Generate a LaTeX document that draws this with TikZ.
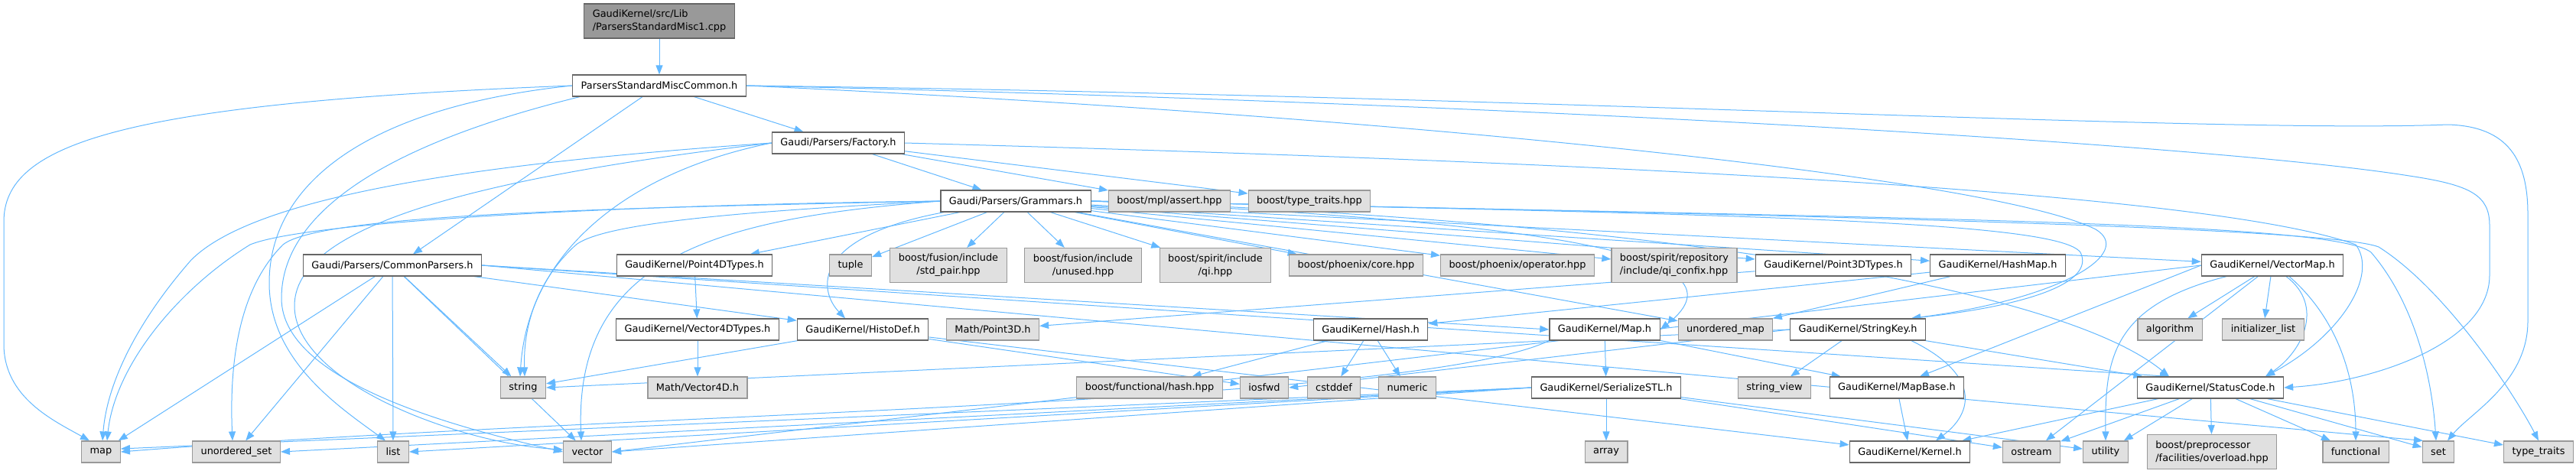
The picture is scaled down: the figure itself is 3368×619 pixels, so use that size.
\documentclass[tikz,border=0pt]{standalone}
\usepackage{fontspec}
\setmainfont{DejaVu Sans}
\usepackage{tikz}
\usetikzlibrary{arrows.meta, backgrounds}

\definecolor{edgeblue}{HTML}{63B8FF}
\definecolor{hdrline}{HTML}{666666}
\definecolor{sysline}{HTML}{999999}
\definecolor{sysfill}{HTML}{E0E0E0}
\definecolor{srcfill}{HTML}{999999}

\begin{document}
\begin{tikzpicture}[x=1pt, y=-1pt,
    hdr/.style={draw=hdrline, line width=1.2pt, fill=white, minimum height=28pt,
      inner xsep=11pt, inner ysep=2pt, align=center, font=\fontsize{12.9}{17}\selectfont},
    sysh/.style={hdr, draw=sysline, fill=sysfill},
    srcfile/.style={hdr, fill=srcfill, align=left, minimum height=45pt},
    dep/.style={draw=edgeblue, line width=1pt, -{Triangle[length=12pt, width=9pt]}}]
    \useasboundingbox (0,0) rectangle (3368,619);

    % rows of files
    \node[srcfile] (root) at (862,27.5) {GaudiKernel/src/Lib\\/ParsersStandardMisc1.cpp};
    \node[hdr] (psmc) at (862,112) {ParsersStandardMiscCommon.h};
    \node[hdr] (factory) at (1096,187) {Gaudi/Parsers/Factory.h};
    \node[hdr] (grammars) at (1328,263) {Gaudi/Parsers/Grammars.h};
    \node[sysh] (assert) at (1529,263) {boost/mpl/assert.hpp};
    \node[sysh] (btraits) at (1712,263) {boost/type\_traits.hpp};

    \node[hdr] (common) at (513,347) {Gaudi/Parsers/CommonParsers.h};
    \node[hdr] (p4d) at (908,347) {GaudiKernel/Point4DTypes.h};
    \node[sysh] (tuple) at (1112,347) {tuple};
    \node[sysh, minimum height=45pt] (stdpair) at (1240,347) {boost/fusion/include\\/std\_pair.hpp};
    \node[sysh, minimum height=45pt] (unused) at (1416,347) {boost/fusion/include\\/unused.hpp};
    \node[sysh, minimum height=45pt] (qi) at (1589,347) {boost/spirit/include\\/qi.hpp};
    \node[sysh] (phcore) at (1773,347) {boost/phoenix/core.hpp};
    \node[sysh] (phop) at (1984,347) {boost/phoenix/operator.hpp};
    \node[sysh, minimum height=45pt, align=left] (confix) at (2189,347) {boost/spirit/repository\\/include/qi\_confix.hpp};
    \node[hdr] (p3d) at (2397,347) {GaudiKernel/Point3DTypes.h};
    \node[hdr] (hashmap) at (2612,347) {GaudiKernel/HashMap.h};
    \node[hdr] (vmap) at (2971,347) {GaudiKernel/VectorMap.h};

    \node[hdr] (v4d) at (912,431) {GaudiKernel/Vector4DTypes.h};
    \node[hdr] (histodef) at (1128,431) {GaudiKernel/HistoDef.h};
    \node[sysh] (point3d) at (1298,431) {Math/Point3D.h};
    \node[hdr] (hash) at (1792,431) {GaudiKernel/Hash.h};
    \node[hdr] (maph) at (2098,431) {GaudiKernel/Map.h};
    \node[sysh] (umap) at (2256,431) {unordered\_map};
    \node[hdr] (stringkey) at (2429,431) {GaudiKernel/StringKey.h};
    \node[sysh] (algorithm) at (2837,431) {algorithm};
    \node[sysh] (initlist) at (2959,431) {initializer\_list};

    \node[sysh] (string) at (684,507) {string};
    \node[sysh] (vec4d) at (912,507) {Math/Vector4D.h};
    \node[sysh] (bhash) at (1503,507) {boost/functional/hash.hpp};
    \node[sysh] (iosfwd) at (1653,507) {iosfwd};
    \node[sysh] (cstddef) at (1744,507) {cstddef};
    \node[sysh] (numeric) at (1840,507) {numeric};
    \node[hdr] (serial) at (2100,507) {GaudiKernel/SerializeSTL.h};
    \node[sysh] (strview) at (2320,507) {string\_view};
    \node[hdr] (mapbase) at (2480,507) {GaudiKernel/MapBase.h};
    \node[hdr] (sc) at (2890,507) {GaudiKernel/StatusCode.h};

    \node[sysh] (map) at (132,591) {map};
    \node[sysh] (uset) at (309,591) {unordered\_set};
    \node[sysh] (list) at (514,591) {list};
    \node[sysh] (vector) at (768,591) {vector};
    \node[sysh] (array) at (2100,591) {array};
    \node[hdr] (kernel) at (2497,591) {GaudiKernel/Kernel.h};
    \node[sysh] (ostream) at (2656,591) {ostream};
    \node[sysh] (utility) at (2753,591) {utility};
    \node[sysh, minimum height=45pt, align=left] (overload) at (2892,591) {boost/preprocessor\\/facilities/overload.hpp};
    \node[sysh] (functional) at (3080,591) {functional};
    \node[sysh] (set) at (3188,591) {set};
    \node[sysh] (traits) at (3319,591) {type\_traits};

    \begin{pgfonlayer}{background}
    % ParsersStandardMiscCommon.h
    \draw[dep] (root) -- (psmc);
    \draw[dep] (psmc) -- (factory);
    \draw[dep] ([xshift=-22pt]psmc.south) -- ([xshift=27pt]common.north);
    \draw[dep] (psmc.west) .. controls (150,135) and (5,190) .. (5,290) -- (5,450) .. controls (5,520) and (70,550) .. ([xshift=-15pt]map.north);
    \draw[dep] (psmc.west) .. controls (480,140) and (352,240) .. (352,370) .. controls (352,470) and (440,530) .. ([xshift=-10pt]list.north);
    \draw[dep] ([xshift=10pt]psmc.south west) .. controls (500,190) and (368,280) .. (368,390) .. controls (368,500) and (600,560) .. (vector.west);
    \draw[dep] (psmc.east) .. controls (2000,125) and (2900,175) .. (3200,163) .. controls (3280,165) and (3305,210) .. (3305,280) -- (3305,420) .. controls (3305,500) and (3230,540) .. ([xshift=12pt]set.north);
    \draw[dep] (psmc.east) .. controls (2000,135) and (2900,190) .. (3150,230) .. controls (3230,242) and (3255,255) .. (3255,295) -- (3255,360) .. controls (3255,450) and (3100,500) .. (sc.east);
    \draw[dep] (psmc.east) .. controls (1800,150) and (2600,230) .. (2740,300) .. controls (2790,330) and (2700,390) .. ([xshift=70pt]stringkey.north);

    % Factory.h
    \draw[dep] (factory) -- (grammars);
    \draw[dep] (factory) -- (assert);
    \draw[dep] (factory) -- (btraits);
    \draw[dep] (factory.east) .. controls (2200,215) and (2900,255) .. (3080,320) .. controls (3110,360) and (3060,440) .. ([xshift=72pt]sc.north);
    \draw[dep] (factory.west) .. controls (600,215) and (330,260) .. (250,340) .. controls (180,420) and (140,500) .. ([xshift=2pt]map.north);
    \draw[dep] (factory.west) .. controls (820,225) and (690,330) .. ([xshift=-4pt]string.north);
    \draw[dep] (factory.west) .. controls (600,235) and (385,300) .. (385,400) .. controls (385,500) and (600,580) .. ([yshift=3pt]vector.west);

    % Grammars.h
    \draw[dep] (grammars) -- (tuple);
    \draw[dep] (grammars) -- (stdpair);
    \draw[dep] (grammars) -- (unused);
    \draw[dep] (grammars) -- (qi);
    \draw[dep] (grammars) -- (phcore);
    \draw[dep] (grammars) -- (phop);
    \draw[dep] (grammars) -- (confix);
    \draw[dep] (grammars) -- (p3d);
    \draw[dep] (grammars) -- (hashmap);
    \draw[dep] (grammars) -- (vmap);
    \draw[dep] (grammars) -- (umap);
    \draw[dep] (grammars) -- (p4d);
    \draw[dep] ([xshift=5pt]grammars.south west) .. controls (1060,310) and (1070,380) .. ([xshift=-23pt]histodef.north);
    \draw[dep] (grammars.west) .. controls (800,268) and (400,290) .. (327,320) .. controls (230,380) and (150,480) .. ([xshift=8pt]map.north);
    \draw[dep] (grammars.west) .. controls (800,272) and (420,280) .. (370,320) .. controls (310,380) and (300,480) .. ([xshift=-5pt]uset.north);
    \draw[dep] (grammars.west) .. controls (1000,275) and (780,290) .. (750,323) .. controls (700,370) and (684,430) .. ([xshift=2pt]string.north);
    \draw[dep] (grammars.west) .. controls (950,285) and (750,330) .. ([xshift=-8pt]vector.north);
    \draw[dep] (grammars.east) .. controls (2000,290) and (2300,330) .. (maph.east);
    \draw[dep] (grammars.east) .. controls (2300,280) and (2690,290) .. (2720,330) .. controls (2740,370) and (2650,400) .. ([xshift=70pt]stringkey.north);
    \draw[dep] (grammars.east) .. controls (2200,290) and (2700,380) .. ([xshift=-54pt]sc.north);
    \draw[dep] (grammars.east) .. controls (2500,285) and (3050,290) .. (3100,330) .. controls (3160,400) and (3180,500) .. ([xshift=-3pt]set.north);
    \draw[dep] (grammars.east) .. controls (2500,283) and (3050,300) .. (3110,323) .. controls (3200,380) and (3290,520) .. (traits.north);

    % CommonParsers.h
    \draw[dep] (common) -- (map);
    \draw[dep] (common) -- (uset);
    \draw[dep] (common) -- (list);
    \draw[dep] (common) -- (string);
    \draw[dep] (common) -- (vector);
    \draw[dep] (common) -- (histodef);
    \draw[dep] (common.east) -- (maph.west);
    \draw[dep] (common.east) -- ([xshift=-54pt]sc.north);
    \draw[dep] (common.east) -- ([xshift=-20pt]set.north);

    % GaudiKernel headers
    \draw[dep] (p4d) -- (v4d);
    \draw[dep] (v4d) -- (vec4d);
    \draw[dep] (histodef) -- (string);
    \draw[dep] (histodef) -- (iosfwd);
    \draw[dep] (histodef) -- (kernel);
    \draw[dep] (p3d) -- (point3d);
    \draw[dep] (hashmap) -- (hash);
    \draw[dep] (hashmap) -- (umap);
    \draw[dep] (hash) -- (cstddef);
    \draw[dep] (hash) -- (numeric);
    \draw[dep] (hash) -- (bhash);
    \draw[dep] (maph) -- (serial);
    \draw[dep] (maph) -- (mapbase);
    \draw[dep] (maph.south west) .. controls (1850,530) and (800,540) .. (map.east);
    \draw[dep] (serial) -- (array);
    \draw[dep] (serial) -- (ostream);
    \draw[dep] (serial) -- (utility);
    \draw[dep] (serial.west) -- (list.east);
    \draw[dep] (serial.west) -- (uset.east);
    \draw[dep] (serial.west) -- ([yshift=4pt]map.east);
    \draw[dep] (serial.west) -- (vector.east);
    \draw[dep] (stringkey) -- (strview);
    \draw[dep] ([xshift=70pt]stringkey.south) .. controls (2590,490) and (2580,540) .. ([xshift=34pt]kernel.north);
    \draw[dep] (stringkey) -- (sc);
    \draw[dep] (stringkey.west) -- (string.east);
    \draw[dep] (stringkey.west) -- (iosfwd.east);
    \draw[dep] (mapbase) -- (kernel);
    \draw[dep] (vmap) -- (algorithm);
    \draw[dep] (vmap) -- (initlist);
    \draw[dep] ([xshift=18pt]vmap.south) .. controls (3040,400) and (3010,460) .. ([xshift=72pt]sc.north);
    \draw[dep] ([xshift=22pt]vmap.south) .. controls (3060,420) and (3080,500) .. (functional.north);
    \draw[dep] (vmap.west) -- ([xshift=30pt]mapbase.north);
    \draw[dep] (vmap) -- (ostream);
    \draw[dep] ([xshift=-60pt]vmap.south) .. controls (2760,400) and (2752,470) .. (utility.north);
    \draw[dep] (vmap.west) -- (vector.east);
    \draw[dep] (sc) -- (kernel);
    \draw[dep] (sc) -- (overload);
    \draw[dep] (sc) -- (functional);
    \draw[dep] (sc) -- (ostream);
    \draw[dep] (sc) -- (utility);
    \draw[dep] (sc) -- (traits);
    \draw[dep] (sc) -- (set);
    \end{pgfonlayer}
\end{tikzpicture}
\end{document}
